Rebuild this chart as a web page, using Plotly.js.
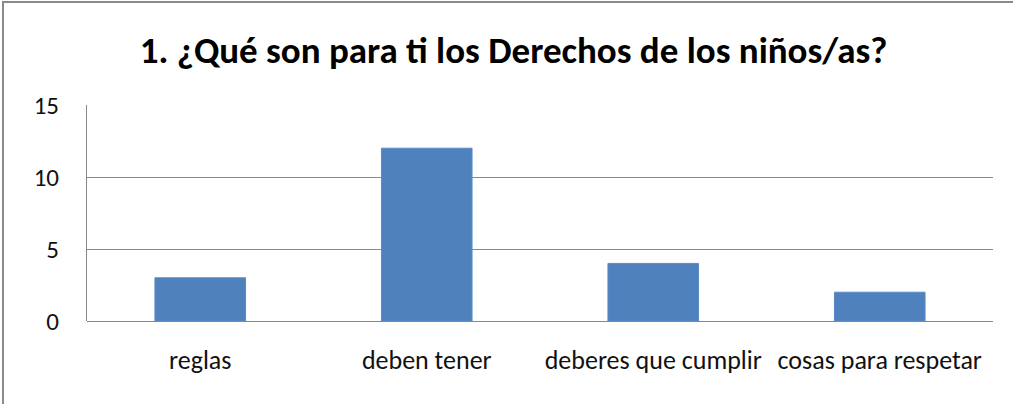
<!DOCTYPE html>
<html><head><meta charset="utf-8">
<script src="https://cdn.plot.ly/plotly-3.0.1.min.js"></script>
<style>
html,body{margin:0;padding:0;background:#fff;}
#frame{position:absolute;left:2px;top:1px;width:1020px;height:420px;border-left:2px solid #8a8a8a;border-top:2px solid #8a8a8a;}
#chart{position:absolute;left:0;top:0;width:1013px;height:404px;}
</style></head>
<body>
<div id="frame"></div>
<div id="chart"></div>
<script>
const categories = ["reglas", "deben tener", "deberes que cumplir", "cosas para respetar"];
const values = [3, 12, 4, 2];
const yTicks = [0, 5, 10, 15];
const titleText = "1. ¿Qué son para ti los Derechos de los niños/as?";

const font = "Carlito, 'Liberation Sans Narrow', 'Open Sans', sans-serif";
Plotly.newPlot('chart', [{
  type: 'bar', x: categories, y: values,
  marker: {color: '#4F81BD', line: {color: '#5a8ac6', width: 1}},
  hoverinfo: 'none'
}], {
  width: 1013, height: 404,
  margin: {l: 87, r: 20, t: 105, b: 83},
  paper_bgcolor: 'rgba(0,0,0,0)', plot_bgcolor: '#fff',
  bargap: 0.6,
  title: {text: '<b>' + titleText + '</b>', font: {family: font, size: 37, color: '#000'}, x: 0.507, xanchor: 'center', y: 0.875, yanchor: 'middle'},
  xaxis: {showline: false, ticks: '', tickfont: {family: font, size: 26, color: '#111'}, ticklabelstandoff: 21, fixedrange: true},
  yaxis: {range: [0, 15], tickvals: yTicks, showline: true, linecolor: '#888', linewidth: 1, gridcolor: '#888', gridwidth: 1, zeroline: true, zerolinecolor: '#888', ticks: '', tickfont: {family: font, size: 25, color: '#111'}, ticklabelstandoff: 22, fixedrange: true},
  showlegend: false
}, {displayModeBar: false, staticPlot: true});
</script>
</body></html>
